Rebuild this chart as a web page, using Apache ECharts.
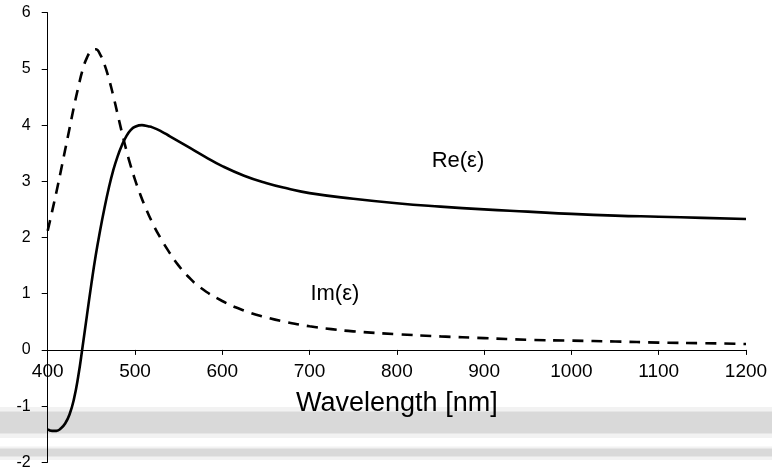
<!DOCTYPE html>
<html>
<head>
<meta charset="utf-8">
<script src="https://cdn.jsdelivr.net/npm/echarts@6/dist/echarts.min.js"></script>
<style>html,body{margin:0;padding:0;background:#fff;}#c{width:772px;height:471px;}</style>
</head>
<body>
<div id="c"></div>
<script>
// Re(ε) readings
var reWavelength = [400,405,410,415,420,425,430,435,440,445,450,455,460,465,470,475,480,485,490,495,500,508,515,520,530,540,550,560,580,600,625,650,675,700,750,800,850,900,950,1000,1050,1100,1150,1200];
var reValues     = [-1.41,-1.44,-1.44,-1.4,-1.31,-1.15,-0.88,-0.47,0.06,0.62,1.17,1.68,2.12,2.52,2.88,3.19,3.44,3.64,3.8,3.91,3.97,4.0,3.98,3.96,3.89,3.8,3.71,3.62,3.44,3.27,3.1,2.97,2.87,2.79,2.69,2.61,2.55,2.5,2.46,2.42,2.39,2.37,2.35,2.33];
// Im(ε) readings
var imWavelength = [400,405,410,415,420,425,430,435,440,445,450,455,460,465,470,475,480,485,490,495,500,505,510,520,530,540,550,560,575,600,625,650,675,700,725,750,800,850,900,950,1000,1050,1100,1150,1200];
var imValues     = [2.12,2.46,2.81,3.18,3.56,3.94,4.32,4.67,4.98,5.2,5.32,5.35,5.26,5.08,4.83,4.53,4.2,3.87,3.56,3.28,3.03,2.81,2.61,2.26,1.97,1.72,1.5,1.32,1.11,0.87,0.7,0.58,0.49,0.42,0.37,0.33,0.28,0.24,0.21,0.18,0.165,0.15,0.13,0.12,0.105];
var xTicks = [400,500,600,700,800,900,1000,1100,1200];
var yTicks = [-2,-1,0,1,2,3,4,5,6];
var xTitle = 'Wavelength [nm]';
var reLabel = {text:'Re(ε)', x:870, y:3.37};
var imLabel = {text:'Im(ε)', x:729, y:1.0};

function pairs(xs, ys){ return xs.map(function(x,i){ return [x, ys[i]]; }); }

var W = 772, H = 471;
var gridTop = 12.7, gridBottom = 8.7;
var yMin = yTicks[0], yMax = yTicks[yTicks.length-1];
// distance from the grid bottom to the y=0 line, derived from the axis scale
var zeroOffset = (H - gridTop - gridBottom) * (0 - yMin) / (yMax - yMin);

var chart = echarts.init(document.getElementById('c'), null, {renderer:'canvas'});
var font = 'Liberation Sans';
chart.setOption({
  animation:false,
  backgroundColor:'#fff',
  grid:{left:47.7, right:26, top:gridTop, bottom:gridBottom, outerBoundsMode:'none'},
  graphic:[
    {type:'rect', z:-1, shape:{x:0,y:407,width:W,height:31}, style:{fill:'#f2f2f2'}, silent:true},
    {type:'rect', z:-1, shape:{x:0,y:411.5,width:W,height:22}, style:{fill:'#d9d9d9'}, silent:true},
    {type:'rect', z:-1, shape:{x:0,y:446.5,width:W,height:13.5}, style:{fill:'#f2f2f2'}, silent:true},
    {type:'rect', z:-1, shape:{x:0,y:448.5,width:W,height:8}, style:{fill:'#d9d9d9'}, silent:true}
  ],
  xAxis:{
    type:'value', position:'bottom', offset:-zeroOffset,
    min:xTicks[0], max:xTicks[xTicks.length-1], interval:100,
    axisLine:{show:true, onZero:false, lineStyle:{color:'#000', width:1}},
    axisTick:{show:true, inside:false, length:5, lineStyle:{color:'#000'}},
    axisLabel:{show:true, color:'#000', fontFamily:font, fontSize:19, margin:12, formatter:function(v){return String(v);}},
    splitLine:{show:false},
    name:xTitle, nameLocation:'middle', nameGap:40,
    nameTextStyle:{color:'#000', fontFamily:font, fontSize:27}
  },
  yAxis:{
    type:'value', min:yMin, max:yMax, interval:1,
    axisLine:{show:true, onZero:false, lineStyle:{color:'#000', width:1}},
    axisTick:{show:true, inside:false, length:6, lineStyle:{color:'#000'}},
    axisLabel:{color:'#000', fontFamily:font, fontSize:16, margin:17, formatter:function(v){return String(v);}},
    splitLine:{show:false}
  },
  series:[
    {
      type:'line', name:'Re', data:pairs(reWavelength, reValues), z:3,
      showSymbol:false, smooth:0.5,
      lineStyle:{color:'#000', width:2.6, type:'solid'},
      markPoint:{symbol:'circle', symbolSize:0, silent:true,
        label:{show:true, position:'inside', color:'#000', fontFamily:font, fontSize:22, formatter:function(){return reLabel.text;}},
        data:[{coord:[reLabel.x, reLabel.y]}]}
    },
    {
      type:'line', name:'Im', data:pairs(imWavelength, imValues), z:3,
      showSymbol:false, smooth:0.5,
      lineStyle:{color:'#000', width:2.6, type:[11,8]},
      markPoint:{symbol:'circle', symbolSize:0, silent:true,
        label:{show:true, position:'inside', color:'#000', fontFamily:font, fontSize:22, formatter:function(){return imLabel.text;}},
        data:[{coord:[imLabel.x, imLabel.y]}]}
    }
  ]
});
</script>
</body>
</html>
